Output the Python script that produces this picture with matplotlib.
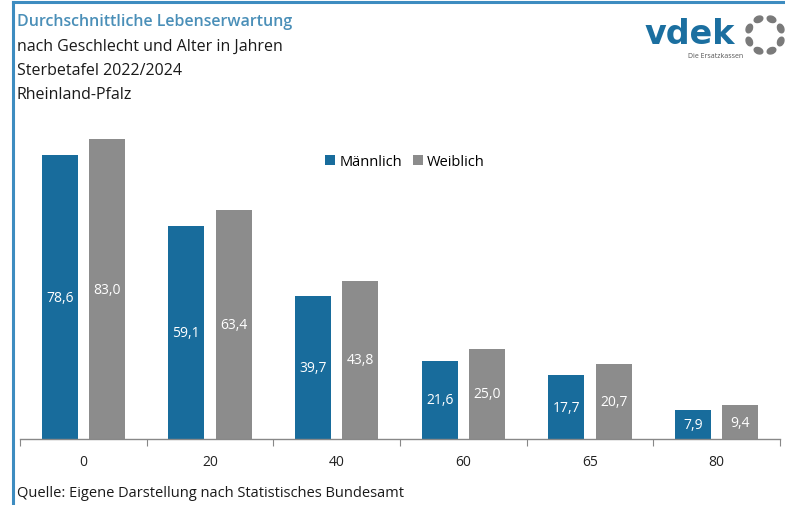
import matplotlib
import matplotlib.pyplot as plt
import numpy as np
from matplotlib.patches import Ellipse

matplotlib.use("Agg")

ages = ["0", "20", "40", "60", "65", "80"]
maennlich = [78.6, 59.1, 39.7, 21.6, 17.7, 7.9]
weiblich = [83.0, 63.4, 43.8, 25.0, 20.7, 9.4]

BLUE = "#186c9c"
GRAY = "#8c8c8c"
TITLE_BLUE = "#4a8fb8"
FONT = "Open Sans"

W, H = 785, 506
fig = plt.figure(figsize=(W / 100, H / 100), dpi=100)


def fx(px):
    return px / W


def fy(py):
    return 1 - py / H


# frame lines (left and top)
fig.add_artist(plt.Line2D([fx(12.5), fx(12.5)], [fy(3), fy(506)], color="#3d8cc0", lw=2.2))
fig.add_artist(plt.Line2D([fx(12.5), fx(785)], [fy(3), fy(3)], color="#3d8cc0", lw=2.2))

# titles
fig.text(fx(17), fy(22), "Durchschnittliche Lebenserwartung", color=TITLE_BLUE,
         fontsize=11.5, fontweight="semibold", family=FONT, va="center")
for y, t in [(47, "nach Geschlecht und Alter in Jahren"), (71, "Sterbetafel 2022/2024"),
             (95, "Rheinland-Pfalz")]:
    fig.text(fx(17), fy(y), t, color="#1a1a1a", fontsize=11.5, family=FONT, va="center")

fig.text(fx(17), fy(494), "Quelle: Eigene Darstellung nach Statistisches Bundesamt",
         color="#1a1a1a", fontsize=10.5, family=FONT, va="center")

# logo
fig.text(fx(690), fy(34), "vdek", color="#1b6fa0", fontsize=24, fontweight="bold",
         family="DejaVu Sans", ha="center", va="center")
fig.text(fx(716), fy(57), "Die Ersatzkassen", color="#555555", fontsize=5,
         family=FONT, ha="center", va="center")
lax = fig.add_axes([fx(740), fy(62), fx(45), 50 / H])
lax.set_xlim(740, 785)
lax.set_ylim(62, 12)
lax.axis("off")
cx, cy, r = 765, 36, 17
for ang in np.deg2rad(np.arange(0, 360, 45) + 22.5):
    lax.add_patch(Ellipse((cx + r * np.cos(ang), cy - r * np.sin(ang)), width=9, height=6,
                          angle=-np.rad2deg(ang) + 90, color="#7a7a7a"))

# plot area
ax = fig.add_axes([fx(20), fy(440), fx(760), (440 - 115) / H])
x = np.arange(len(ages))
bw = 0.283
off = 0.187
bm = ax.bar(x - off, maennlich, bw, color=BLUE, label="Männlich")
bf = ax.bar(x + off, weiblich, bw, color=GRAY, label="Weiblich")

for bars, vals in [(bm, maennlich), (bf, weiblich)]:
    for b, v in zip(bars, vals):
        ax.text(b.get_x() + b.get_width() / 2, v / 2, f"{v:.1f}".replace(".", ","),
                ha="center", va="center", color="white", fontsize=10, family=FONT)

ax.set_xlim(-0.5, len(ages) - 0.5)
ax.set_ylim(0, 90)
ax.set_yticks([])
ax.set_xticks(np.arange(-0.5, len(ages)), minor=False)
ax.set_xticklabels([])
ax.set_xticks(x, minor=True)
ax.set_xticklabels(ages, minor=True, fontsize=10, family=FONT, color="#222222")
ax.tick_params(axis="x", which="major", length=5, color="#888888", width=0.8)
ax.tick_params(axis="x", which="minor", length=0, pad=11)
for s in ["top", "right", "left"]:
    ax.spines[s].set_visible(False)
ax.spines["bottom"].set_color("#888888")
ax.spines["bottom"].set_linewidth(1.0)

ax.legend(loc="upper left", bbox_to_anchor=((312 - 20) / 760, (440 - 142) / (440 - 115)),
          ncol=2, frameon=False, handlelength=0.7, handleheight=0.7, handletextpad=0.3,
          columnspacing=0.7, prop={"family": FONT, "size": 10.5})

fig.savefig("out.png", dpi=100)
